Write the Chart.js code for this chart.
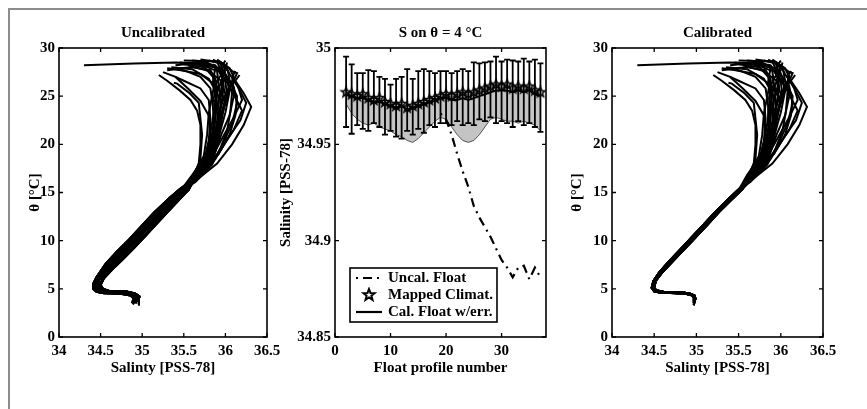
<!DOCTYPE html>
<html lang="en">
<head>
<meta charset="UTF-8">
<title>Float salinity calibration</title>
<script src="https://cdn.jsdelivr.net/npm/chart.js@4.4.1/dist/chart.umd.min.js"></script>
<style>
  body { margin: 0; background: #fff; }
  #wrap { position: relative; width: 867px; height: 409px; overflow: hidden; background: #fff; }
  #frame { position: absolute; left: 8px; top: 8px; width: 900px; height: 450px;
           border-top: 2px solid #8c8c8c; border-left: 2px solid #8c8c8c; }
  canvas { position: absolute; top: 0; }
</style>
</head>
<body>
<div id="wrap">
  <div id="frame"></div>
  <canvas id="c1" width="290" height="409" style="left:0px"></canvas>
  <canvas id="c2" width="285" height="409" style="left:275px"></canvas>
  <canvas id="c3" width="307" height="409" style="left:560px"></canvas>
</div>
<script>
// ---- theta/S profiles: deep parts (S, theta) ----
const lowerUncal = [
  [[34.95,3.4],[34.96,4.1],[34.9,4.4],[34.8,4.65],[34.6,4.7],[34.5,4.85],[34.46,5.2],[34.48,5.9],[34.56,6.7],[34.68,7.8],[34.82,9.0],[34.95,10.2],[35.1,11.6],[35.25,13],[35.4,14.3],[35.52,15.3]],
  [[34.92,3.5],[34.94,4.0],[34.88,4.35],[34.78,4.6],[34.58,4.65],[34.48,4.8],[34.44,5.15],[34.46,5.8],[34.53,6.6],[34.65,7.8],[34.79,9.0],[34.92,10.2],[35.07,11.6],[35.22,13],[35.37,14.3],[35.5,15.4]],
  [[34.9,3.6],[34.92,4.1],[34.87,4.4],[34.75,4.55],[34.55,4.6],[34.46,4.75],[34.43,5.1],[34.44,5.7],[34.5,6.5],[34.62,7.8],[34.76,9.0],[34.89,10.2],[35.04,11.6],[35.19,13],[35.34,14.3],[35.48,15.4]],
  [[34.88,3.5],[34.9,4.2],[34.85,4.45],[34.72,4.55],[34.52,4.6],[34.45,4.75],[34.42,5.1],[34.42,5.6],[34.47,6.4],[34.59,7.8],[34.73,9.0],[34.86,10.2],[35.01,11.6],[35.16,13],[35.31,14.3],[35.46,15.4]],
  [[34.94,3.7],[34.97,4.2],[34.92,4.5],[34.82,4.7],[34.62,4.75],[34.52,4.9],[34.49,5.3],[34.52,6.0],[34.61,6.9],[34.74,8.0],[34.88,9.2],[35.01,10.4],[35.16,11.8],[35.3,13.2],[35.44,14.4],[35.55,15.4]],
  [[34.96,3.8],[34.95,4.3],[34.9,4.55],[34.8,4.75],[34.6,4.8],[34.53,5.0],[34.5,5.4],[34.54,6.1],[34.64,7.0],[34.77,8.1],[34.91,9.3],[35.04,10.5],[35.19,11.9],[35.33,13.2],[35.46,14.4],[35.56,15.3]],
  [[34.89,3.4],[34.91,3.9],[34.86,4.3],[34.74,4.5],[34.54,4.55],[34.45,4.7],[34.41,5.0],[34.41,5.5],[34.45,6.2],[34.56,7.6],[34.7,8.9],[34.84,10.1],[34.99,11.5],[35.14,12.9],[35.3,14.2],[35.45,15.3]]
];
const lowerCal = [
  [[34.97,3.3],[34.98,4.1],[34.93,4.4],[34.82,4.6],[34.6,4.65],[34.51,4.8],[34.48,5.2],[34.5,5.9],[34.57,6.7],[34.69,7.8],[34.82,9.0],[34.95,10.2],[35.1,11.6],[35.25,13],[35.4,14.3],[35.52,15.3]],
  [[34.96,3.5],[34.97,4.2],[34.92,4.45],[34.8,4.55],[34.58,4.6],[34.5,4.75],[34.47,5.1],[34.49,5.8],[34.56,6.7],[34.68,7.9],[34.81,9.1],[34.94,10.3],[35.09,11.7],[35.24,13.1],[35.39,14.4],[35.51,15.4]],
  [[34.98,3.6],[34.98,4.3],[34.93,4.5],[34.83,4.65],[34.61,4.7],[34.52,4.85],[34.49,5.25],[34.51,6.0],[34.58,6.8],[34.7,7.9],[34.83,9.1],[34.96,10.3],[35.11,11.7],[35.26,13.1],[35.41,14.4],[35.53,15.4]],
  [[34.97,3.4],[34.99,4.0],[34.94,4.35],[34.84,4.55],[34.62,4.6],[34.53,4.75],[34.5,5.15],[34.52,5.85],[34.6,6.75],[34.72,7.85],[34.85,9.05],[34.98,10.25],[35.13,11.65],[35.27,13],[35.42,14.3],[35.54,15.3]]
];
// ---- upper parts (S, theta) ----
const upperProfiles = [
  [[35.62,16.3],[35.78,18],[35.85,20],[35.9,22],[35.95,24],[35.98,26],[35.95,27.5],[35.8,28.4],[35.4,28.5],[34.9,28.4],[34.3,28.2]],
  [[35.64,16.2],[35.9,18],[36.08,20],[36.22,22],[36.31,23.9],[36.22,25.3],[36.12,26.6],[36.17,27.2]],
  [[35.66,16.4],[35.88,18.5],[36.02,20.5],[36.18,22.5],[36.25,24.3],[36.15,26],[36.05,27.3],[36.0,28.2]],
  [[35.6,16],[35.75,17.5],[35.95,19.5],[36.1,21.5],[36.2,23.5],[36.08,25.5],[35.98,27],[35.9,28.6],[35.5,28.7]],
  [[35.6,16.5],[35.68,18],[35.7,20],[35.7,22],[35.66,23.5],[35.58,24.6],[35.45,25.6],[35.3,26.6],[35.2,27.2]],
  [[35.62,16.6],[35.7,18.5],[35.72,21],[35.68,24.3],[35.57,25.3],[35.42,26.3],[35.38,26.4]],
  [[35.6,16.2],[35.8,18.5],[35.82,21],[35.8,23],[35.7,24.5],[35.55,25.8],[35.4,27],[35.25,27.5]],
  [[35.62,16],[35.82,18],[35.9,20],[35.95,22.5],[36.0,24.5],[35.9,26],[35.7,27.3],[35.4,27.8],[35.3,27.7]],
  [[35.64,16.5],[35.85,18.5],[35.95,21],[36.05,23],[36.1,25],[36.08,26.5],[36.1,27.5],[35.95,28.5],[35.7,28.8]],
  [[35.6,16.8],[35.78,19],[35.85,21.5],[35.88,23.5],[35.9,25.5],[35.85,27],[35.75,28],[35.5,28.3]],
  [[35.63,16.4],[35.82,18.6],[35.92,20.8],[36.0,23.3],[36.05,25.5],[36.02,27],[35.95,28],[36.0,28.7]],
  [[35.61,16.1],[35.8,17.8],[35.88,19.5],[35.92,21.5],[35.9,24],[35.85,26.5],[35.88,28],[35.7,28.4],[35.45,28.4]],
  [[35.65,16.7],[35.92,19],[36.05,21],[36.12,23],[36.14,25],[36.05,26.6],[35.95,27.6],[35.85,28.3]],
  [[35.6,16.3],[35.78,18.2],[35.86,20.3],[35.9,22.4],[35.92,25],[35.8,26.8],[35.6,27.8],[35.35,28]],
  [[35.62,16.2],[35.8,18.2],[35.88,20.5],[35.95,23],[36.02,25],[36.0,26.5],[35.92,27.8],[35.75,28.6],[35.6,28.7]],
  [[35.63,16.5],[35.84,18.8],[35.93,21.5],[35.98,23.8],[36.06,25.8],[36.1,27],[36.05,27.9],[35.9,28.8]],
  [[35.6,16.1],[35.76,18],[35.82,20],[35.86,22],[35.85,24],[35.82,25.8],[35.7,27],[35.5,27.7],[35.3,27.9]],
  [[35.64,16.3],[35.86,18.3],[35.98,20.2],[36.08,22.2],[36.14,24.2],[36.1,26],[36.0,27.2],[35.98,28.3],[35.8,28.7]],
  [[35.61,16.6],[35.79,18.7],[35.88,21],[35.92,23],[35.97,25],[35.96,27],[35.88,28.2],[35.65,28.6]],
  [[35.62,16.2],[35.82,18.4],[35.96,20.6],[36.1,22.8],[36.2,24.6],[36.16,25.8],[36.08,27],[36.12,27.6]],
  [[35.6,16.4],[35.74,18.2],[35.8,20.4],[35.82,22.6],[35.8,24.6],[35.7,25.8],[35.5,26.6],[35.4,27]],
  [[35.63,16.3],[35.83,18.1],[35.9,19.8],[35.94,21.8],[35.94,23.8],[35.93,26],[35.98,27.4],[35.94,28.4],[35.85,28.8]],
  [[35.62,16.5],[35.8,18.6],[35.86,20.8],[35.88,22.8],[35.86,24.8],[35.9,26.6],[36.0,27.8],[36.02,28.5]],
  [[35.61,16.2],[35.78,17.9],[35.86,19.7],[35.9,21.7],[35.93,23.6],[36.0,25.2],[35.95,26.6],[35.8,27.6],[35.55,28.2]],
  [[35.62,16.4],[35.76,18.4],[35.8,20.2],[35.84,22.2],[35.88,24.2],[35.92,26.2],[35.9,27.6],[35.7,28.3],[35.45,28.5]],
  [[35.63,16.2],[35.8,18],[35.86,19.6],[35.9,21.2],[35.96,23.2],[36.02,24.8],[36.06,26.2],[36.03,27.6],[35.92,28.6]],
  [[35.61,16.5],[35.77,18.6],[35.84,20.6],[35.87,22.6],[35.92,24.6],[35.98,26.6],[35.94,27.9],[35.6,28.4],[35.4,28.2]],
  [[35.62,16.3],[35.79,18.3],[35.85,20.1],[35.92,22.1],[35.98,24.1],[36.04,26],[36.0,27.2],[35.85,28.1],[35.55,28.4]],
  [[35.6,16.6],[35.74,18.8],[35.78,21],[35.8,23.2],[35.84,25],[35.88,26.8],[35.82,27.7],[35.6,28],[35.45,27.9]],
  [[35.64,16.1],[35.84,17.9],[35.94,19.6],[36.02,21.4],[36.06,23.4],[36.08,25.4],[36.1,26.6],[36.14,27.4],[36.1,27.5]]
];

// ---- salinity on theta = 4 C ----
const profileNum = [2,3,4,5,6,7,8,9,10,11,12,13,14,15,16,17,18,19,20,21,22,23,24,25,26,27,28,29,30,31,32,33,34,35,36,37];
const climat   = [34.977,34.976,34.975,34.976,34.974,34.973,34.974,34.972,34.971,34.970,34.971,34.969,34.970,34.971,34.972,34.973,34.974,34.975,34.976,34.975,34.976,34.977,34.976,34.977,34.978,34.979,34.980,34.981,34.980,34.981,34.979,34.980,34.979,34.980,34.978,34.977];
const calFloat = [34.976,34.975,34.974,34.974,34.973,34.972,34.972,34.971,34.970,34.969,34.970,34.968,34.969,34.970,34.971,34.972,34.973,34.974,34.974,34.973,34.973,34.974,34.973,34.974,34.975,34.976,34.977,34.978,34.978,34.978,34.977,34.978,34.977,34.978,34.976,34.975];
const calLow   = [34.971,34.966,34.963,34.961,34.960,34.961,34.959,34.958,34.957,34.955,34.954,34.952,34.951,34.953,34.956,34.959,34.962,34.964,34.963,34.959,34.955,34.952,34.951,34.952,34.955,34.959,34.963,34.964,34.963,34.962,34.962,34.961,34.962,34.961,34.960,34.957];
const errHi    = [34.9955,34.9915,34.987,34.987,34.9885,34.988,34.985,34.984,34.981,34.984,34.985,34.989,34.984,34.988,34.989,34.988,34.987,34.988,34.988,34.987,34.988,34.989,34.988,34.9925,34.992,34.9925,34.993,34.9955,34.993,34.994,34.9935,34.993,34.9945,34.993,34.994,34.992];
const errLo    = [34.959,34.9555,34.960,34.958,34.957,34.961,34.959,34.955,34.957,34.954,34.953,34.957,34.955,34.958,34.956,34.960,34.959,34.961,34.961,34.960,34.962,34.960,34.961,34.960,34.963,34.962,34.964,34.961,34.962,34.961,34.959,34.962,34.960,34.961,34.959,34.9565];
const uncalNum = [19,20,21,22,23,24,25,26,27,28,29,30,31,32,33,34,35,36,37];
const uncal    = [34.966,34.963,34.955,34.945,34.936,34.928,34.918,34.912,34.907,34.902,34.896,34.89,34.886,34.881,34.886,34.887,34.88,34.886,34.881];

const legendLabels = ['Uncal. Float', 'Mapped Climat.', 'Cal. Float w/err.'];
const FONT = 'Liberation Serif, Times New Roman, serif';
const FS = 15;

function toPts(arr) { return arr.map(p => ({x: p[0], y: p[1]})); }
function fmt(v) { return String(parseFloat(Number(v).toFixed(3))); }

function starImg(r, lw) {
  const c = document.createElement('canvas');
  const s = Math.ceil(r * 2 + 4);
  c.width = c.height = s;
  const g = c.getContext('2d');
  g.beginPath();
  for (let i = 0; i < 10; i++) {
    const a = -Math.PI / 2 + i * Math.PI / 5;
    const rr = i % 2 ? r * 0.42 : r;
    g.lineTo(s / 2 + rr * Math.cos(a), s / 2 + rr * Math.sin(a));
  }
  g.closePath();
  g.lineWidth = lw;
  g.strokeStyle = '#000';
  g.stroke();
  return c;
}
const star = starImg(5, 1.6);
const starBig = starImg(6, 2);

// box, inward ticks, panel title
const boxPlugin = {
  id: 'boxPlugin',
  afterDraw(chart, args, opts) {
    const {ctx, chartArea: a, scales} = chart;
    ctx.save();
    ctx.strokeStyle = '#000';
    ctx.lineWidth = 1.6;
    ctx.strokeRect(a.left, a.top, a.right - a.left, a.bottom - a.top);
    ctx.lineWidth = 1.3;
    ctx.beginPath();
    scales.x.ticks.forEach(t => {
      const px = scales.x.getPixelForValue(t.value);
      ctx.moveTo(px, a.bottom); ctx.lineTo(px, a.bottom - 4);
      ctx.moveTo(px, a.top); ctx.lineTo(px, a.top + 4);
    });
    scales.y.ticks.forEach(t => {
      const py = scales.y.getPixelForValue(t.value);
      ctx.moveTo(a.left, py); ctx.lineTo(a.left + 4, py);
      ctx.moveTo(a.right, py); ctx.lineTo(a.right - 4, py);
    });
    ctx.stroke();
    ctx.fillStyle = '#000';
    ctx.font = 'bold ' + FS + 'px ' + FONT;
    ctx.textAlign = 'center';
    ctx.textBaseline = 'middle';
    ctx.fillText(opts.text, (a.left + a.right) / 2, 33);
    ctx.restore();
  }
};

const errBars = {
  id: 'errBars',
  afterDatasetsDraw(chart) {
    if (!chart.options.plugins.errBars) return;
    const {ctx, scales: {x, y}} = chart;
    ctx.save();
    ctx.strokeStyle = '#000';
    ctx.lineWidth = 1.8;
    ctx.beginPath();
    profileNum.forEach((n, i) => {
      const px = x.getPixelForValue(n);
      const hi = y.getPixelForValue(errHi[i]);
      const lo = y.getPixelForValue(errLo[i]);
      ctx.moveTo(px, hi); ctx.lineTo(px, lo);
      ctx.moveTo(px - 3, hi); ctx.lineTo(px + 3, hi);
      ctx.moveTo(px - 3, lo); ctx.lineTo(px + 3, lo);
    });
    ctx.stroke();
    ctx.restore();
  }
};

const legendBox = {
  id: 'legendBox',
  afterDraw(chart) {
    if (!chart.options.plugins.legendBox) return;
    const {ctx, chartArea: a} = chart;
    const x0 = a.left + 15, y0 = a.bottom - 69, w = 147, h = 54;
    ctx.save();
    ctx.fillStyle = '#fff';
    ctx.fillRect(x0, y0, w, h);
    ctx.strokeStyle = '#000';
    ctx.lineWidth = 1.6;
    ctx.strokeRect(x0, y0, w, h);
    const rows = [y0 + 10, y0 + 27, y0 + 44];
    ctx.lineWidth = 2.2;
    ctx.setLineDash([2, 5, 9, 5]);
    ctx.beginPath(); ctx.moveTo(x0 + 6, rows[0]); ctx.lineTo(x0 + 32, rows[0]); ctx.stroke();
    ctx.setLineDash([]);
    ctx.drawImage(starBig, x0 + 19 - starBig.width / 2, rows[1] - starBig.height / 2);
    ctx.beginPath(); ctx.moveTo(x0 + 6, rows[2]); ctx.lineTo(x0 + 32, rows[2]); ctx.stroke();
    ctx.fillStyle = '#000';
    ctx.font = 'bold ' + FS + 'px ' + FONT;
    ctx.textAlign = 'left';
    ctx.textBaseline = 'middle';
    legendLabels.forEach((t, i) => ctx.fillText(t, x0 + 38, rows[i]));
    ctx.restore();
  }
};

const tickFont = {family: FONT, size: FS, weight: 'bold'};

function scaleX(min, max, step, title, extra) {
  return Object.assign({
    type: 'linear', min, max,
    grid: {display: false, drawTicks: false}, border: {display: false},
    ticks: {stepSize: step, font: tickFont, color: '#000', padding: 5, autoSkip: false, maxRotation: 0, callback: fmt},
    title: {display: true, text: title, font: tickFont, color: '#000', padding: {top: 0, bottom: 32}},
    afterFit(s) { s.height = 72; }
  }, extra || {});
}
function scaleY(min, max, step, title, width, titlePad) {
  return {
    type: 'linear', min, max,
    grid: {display: false, drawTicks: false}, border: {display: false},
    ticks: {stepSize: step, font: tickFont, color: '#000', padding: 4, autoSkip: false, callback: fmt},
    title: {display: true, text: title, font: tickFont, color: '#000', padding: {top: titlePad, bottom: 0}},
    afterFit(s) { s.width = width; }
  };
}

function profileChart(id, lowers, title, yWidth, yTitlePad, padRight) {
  const datasets = upperProfiles.map((up, i) => ({
    data: toPts(lowers[i % lowers.length].concat(up)),
    showLine: true, borderColor: '#000', borderWidth: 2, pointRadius: 0, tension: 0
  }));
  new Chart(document.getElementById(id), {
    type: 'scatter',
    data: {datasets},
    options: {
      responsive: false, animation: false,
      layout: {padding: {left: 0, right: padRight, top: 48, bottom: 0}},
      scales: {
        x: scaleX(34, 36.5, 0.5, 'Salinty [PSS-78]'),
        y: scaleY(0, 30, 5, 'θ [°C]', yWidth, yTitlePad)
      },
      plugins: {legend: {display: false}, tooltip: {enabled: false}, boxPlugin: {text: title}}
    },
    plugins: [boxPlugin]
  });
}

profileChart('c1', lowerUncal, 'Uncalibrated', 59, 26, 23);
profileChart('c3', lowerCal, 'Calibrated', 52, 8, 44);

// middle panel
new Chart(document.getElementById('c2'), {
  type: 'scatter',
  data: {
    datasets: [
      {label: legendLabels[0], data: uncalNum.map((n, i) => ({x: n, y: uncal[i]})),
       showLine: true, borderColor: '#000', borderWidth: 2.2, borderDash: [2, 5, 9, 5], pointRadius: 0},
      {label: legendLabels[1], data: profileNum.map((n, i) => ({x: n, y: climat[i]})),
       showLine: false, pointStyle: star, pointRadius: 5},
      {label: legendLabels[2], data: profileNum.map((n, i) => ({x: n, y: calFloat[i]})),
       showLine: true, borderColor: '#000', borderWidth: 2, pointRadius: 0},
      {label: 'err', data: profileNum.map((n, i) => ({x: n, y: calLow[i]})),
       showLine: true, borderColor: '#333', borderWidth: 0.8, pointRadius: 0,
       fill: '-1', backgroundColor: '#c4c4c4'}
    ]
  },
  options: {
    responsive: false, animation: false,
    layout: {padding: {left: 0, right: 14, top: 48, bottom: 0}},
    scales: {
      x: scaleX(0, 38, 10, 'Float profile number',
        {afterBuildTicks(s) { s.ticks = s.ticks.filter(t => t.value % 10 === 0); }}),
      y: scaleY(34.85, 35, 0.05, 'Salinity [PSS-78]', 60, 2)
    },
    plugins: {legend: {display: false}, tooltip: {enabled: false},
              boxPlugin: {text: 'S on θ = 4 °C'}, errBars: true, legendBox: true}
  },
  plugins: [errBars, boxPlugin, legendBox]
});
</script>
</body>
</html>
